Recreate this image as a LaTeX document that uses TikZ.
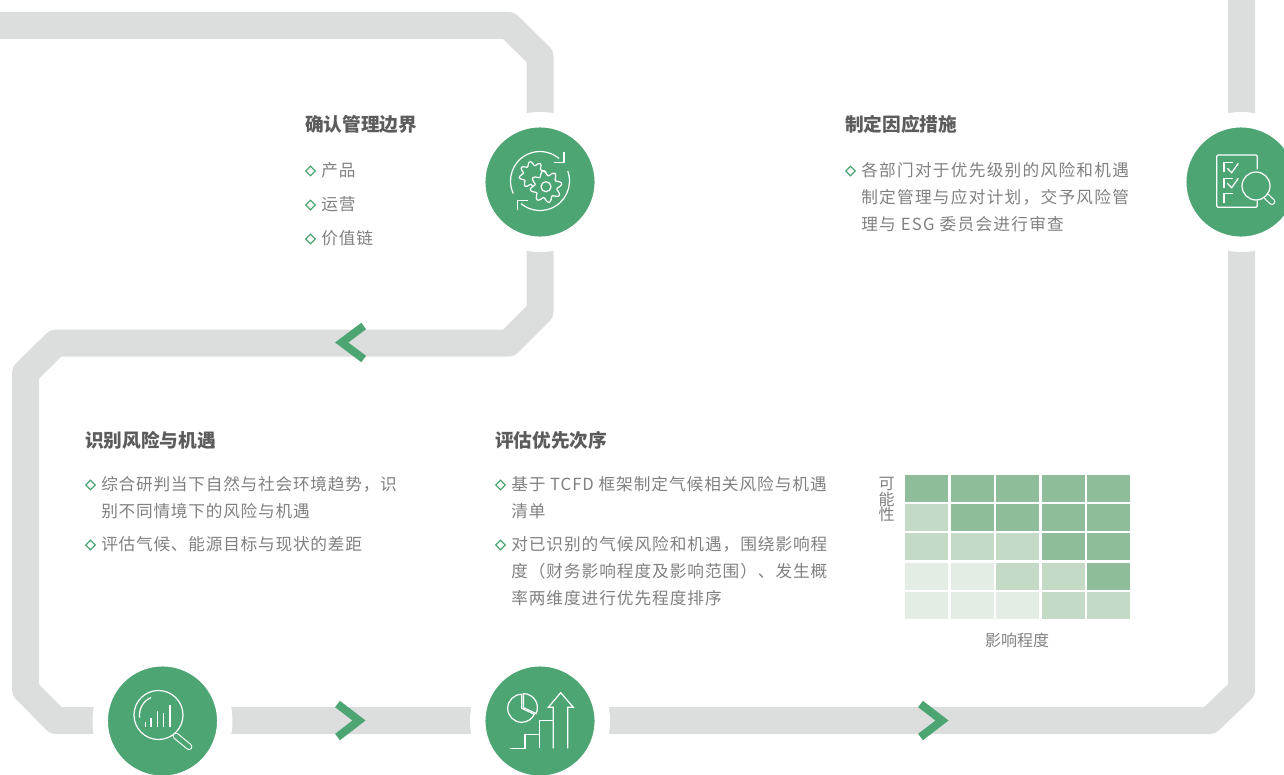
\documentclass[tikz,border=0pt]{standalone}
\usepackage{fontspec}
\usetikzlibrary{shapes.geometric}
\setmainfont{Noto Sans CJK SC}
\newfontfamily\bodyfont[LetterSpace=5.7]{Noto Sans CJK SC}
\newfontfamily\widefont[LetterSpace=7.6]{Noto Sans CJK SC}
\newfontfamily\tightfont[LetterSpace=4.6]{Noto Sans CJK SC}
\definecolor{trackgray}{HTML}{DCDEDD}
\definecolor{stepgreen}{HTML}{4DA574}
\definecolor{celldark}{HTML}{8FBD9B}
\definecolor{cellmid}{HTML}{C4DAC6}
\definecolor{celllight}{HTML}{E3EDE4}
\definecolor{headgray}{HTML}{5C5C5C}
\definecolor{textgray}{HTML}{808080}
\tikzstyle{track}=[draw=trackgray,line width=20.25pt,line join=round]
\tikzstyle{stepicon}=[circle,fill=stepgreen,draw=white,line width=11.6pt,minimum size=93.4pt,inner sep=0pt,outer sep=0pt]
\tikzstyle{iconline}=[draw=white,line width=0.9pt]
\tikzstyle{chevron}=[draw=stepgreen,line width=6pt,miter limit=10]
\tikzstyle{heading}=[anchor=base west,inner sep=0pt,text=headgray,font=\fontsize{14}{18}\selectfont\bfseries]
\tikzstyle{body}=[anchor=north west,inner sep=0pt,align=left,text=textgray,font=\fontsize{12.5}{20.25}\selectfont\bodyfont]
\tikzstyle{bullet}=[diamond,draw=stepgreen,line width=1pt,minimum size=7.5pt,inner sep=0pt]
\tikzstyle{cell}=[minimum width=32.25pt,minimum height=20.25pt,inner sep=0pt]
\tikzstyle{axislabel}=[inner sep=0pt,text=textgray,font=\fontsize{12}{11.9}\selectfont]

\begin{document}
\begin{tikzpicture}[x=0.75pt,y=0.75pt]
    \useasboundingbox (0,-774) rectangle (1284,0);
    \coordinate (gearpos) at (540,-182);
    \coordinate (checkpos) at (1241,-182);
    \coordinate (searchpos) at (162.5,-721);
    \coordinate (chartpos) at (540,-721);

    \draw[track] (-10,-25.5) -- (508.6,-25.5) -- (540,-56.4) -- (gearpos) -- (540,-311.6) -- (508.6,-343) -- (56,-343) -- (25.7,-372.7) -- (25.7,-690) -- (56,-720.5) -- (1209.6,-720.5) -- (1241.5,-690) -- (1241.5,10);

    \draw[chevron] (363.7,-326) -- (341.7,-342.5) -- (363.7,-359);
    \draw[chevron] (337.5,-704) -- (359,-720.5) -- (337.5,-737);
    \draw[chevron] (920.5,-704) -- (942,-720.5) -- (920.5,-737);

    \node[stepicon] (gear) at (gearpos) {};
    \node[stepicon] (check) at (checkpos) {};
    \node[stepicon] (search) at (searchpos) {};
    \node[stepicon] (chart) at (chartpos) {};

    \begin{scope}[shift={(gearpos)}]
        \draw[iconline] plot[domain=0:360,samples=97,smooth] ({-7.3+(11.5+2*sin(8*\x))*cos(\x)},{7+(11.5+2*sin(8*\x))*sin(\x)});
        \draw[iconline,fill=stepgreen] plot[domain=0:360,samples=97,smooth] ({6+(13.5+2.4*sin(8*\x))*cos(\x)},{-4.7+(13.5+2.4*sin(8*\x))*sin(\x)}) -- cycle;
        \draw[iconline] (6,-4.7) circle (5);
        \draw[iconline] (0,1) ++(205:29.5) arc (205:50:29.5);
        \draw[iconline] (0,1) ++(20:29.5) arc (20:-130:29.5);
        \draw[iconline] (13.5,19.7) -- (24,19.7) -- (24,29.7);
        \draw[iconline] (-11.7,-18.7) -- (-22.3,-18.7) -- (-22.3,-28);
    \end{scope}

    \begin{scope}[shift={(checkpos)}]
        \draw[iconline,rounded corners=1] (16.3,12.7) -- (16.3,27) -- (-24.3,27) -- (-24.3,-25.3) -- (16.3,-25.3) -- (16.3,-18.7);
        \foreach \cy in {19.3,3.7,-11.3}
        \draw[iconline] (-7.7,\cy) -- (-17,\cy) -- (-17,\cy-9.3);
        \foreach \cy in {13.7,-1.3}
        \draw[iconline] (-13.7,\cy) -- (-9.3,\cy-4.4) -- (-2.7,\cy+5);
        \draw[white,line width=5pt,line cap=round] (25.7,-14.7) -- (31,-19.7);
        \draw[stepgreen,line width=3.2pt,line cap=round] (25.7,-14.7) -- (31,-19.7);
        \draw[iconline,fill=stepgreen] (15,-4) circle (14);
    \end{scope}

    \begin{scope}[shift={(searchpos)}]
        \draw[white,line width=5pt,line cap=round] (13.5,-15) -- (26.5,-25.7);
        \draw[stepgreen,line width=3.4pt,line cap=round] (13.5,-15) -- (26.5,-25.7);
        \draw[iconline,fill=stepgreen] (-4,6) circle (24.5);
        \draw[iconline] (-4,6) ++(188:19) arc (188:113:19);
        \foreach \bx/\by in {-16.8/-1.3,-11.5/2.7,-4.8/10.3,0.8/7.7,7.5/16}
        \draw[iconline] (\bx,-6.3) -- (\bx,\by);
    \end{scope}

    \begin{scope}[shift={(chartpos)}]
        \draw[iconline] (-18.3,12.7) ++(90:14) arc (90:335:14) -- (-18.3,12.7) -- cycle;
        \draw[iconline] (-16.6,13.4) ++(90:14) arc (90:-25:14) -- (-16.6,13.4) -- cycle;
        \draw[iconline] (-30,-27.3) -- (-15,-27.3) -- (-15,-13.3) -- (-0.7,-13.3) -- (-0.7,0.3) -- (13.3,0.3);
        \draw[iconline] (-0.7,-13.3) -- (-0.7,-27.3);
        \draw[iconline] (13.3,-27.3) -- (13.3,13.7) -- (8.3,13.7) -- (20.7,28.3) -- (33.3,13.7) -- (27.7,13.7) -- (27.7,-27.3);
    \end{scope}

    \node[heading] (titlea) at (305,-131) {确认管理边界};
    \node[heading] (titleb) at (845,-131) {制定因应措施};
    \node[heading] (titlec) at (85,-447) {识别风险与机遇};
    \node[heading] (titled) at (495,-447) {评估优先次序};

    \foreach \name/\bx/\by in {ba/310.5/-171,bb/310.5/-205,bc/310.5/-239,bd/850.5/-171,be/90.5/-485,bf/90.5/-545,bg/500.5/-485,bh/500.5/-545}
    \node[bullet] (\name) at (\bx,\by) {};

    \node[body] (ta) at (321,-162) {产品};
    \node[body] (tb) at (321,-196) {运营};
    \node[body] (tc) at (321,-230) {价值链};
    \node[body,font=\fontsize{12.5}{20.25}\selectfont\widefont] (td) at (861,-162) {各部门对于优先级别的风险和机遇\\制定管理与应对计划，交予风险管\\理与 ESG 委员会进行审查};
    \node[body,font=\fontsize{12.5}{20.25}\selectfont\tightfont] (te) at (101,-476) {综合研判当下自然与社会环境趋势，识\\别不同情境下的风险与机遇};
    \node[body,font=\fontsize{12.5}{20.25}\selectfont\tightfont] (tf) at (101,-536) {评估气候、能源目标与现状的差距};
    \node[body] (tg) at (511,-476) {基于 TCFD 框架制定气候相关风险与机遇\\清单};
    \node[body] (th) at (511,-536) {对已识别的气候风险和机遇，围绕影响程\\度（财务影响程度及影响范围）、发生概\\率两维度进行优先程度排序};

    \foreach \c/\r in {0/0,1/0,2/0,3/0,4/0,1/1,2/1,3/1,4/1,3/2,4/2,4/3}
    \node[cell,fill=celldark] (cell\r\c) at ({926.5+45.5*\c},{-488.5-29.2*\r}) {};
    \foreach \c/\r in {0/1,0/2,1/2,2/2,2/3,3/3,3/4,4/4}
    \node[cell,fill=cellmid] (cell\r\c) at ({926.5+45.5*\c},{-488.5-29.2*\r}) {};
    \foreach \c/\r in {0/3,1/3,0/4,1/4,2/4}
    \node[cell,fill=celllight] (cell\r\c) at ({926.5+45.5*\c},{-488.5-29.2*\r}) {};

    \node[axislabel,align=center] (ylabel) at (886.5,-499.5) {可\\能\\性};
    \node[axislabel] (xlabel) at (1017,-640) {影响程度};
\end{tikzpicture}
\end{document}
